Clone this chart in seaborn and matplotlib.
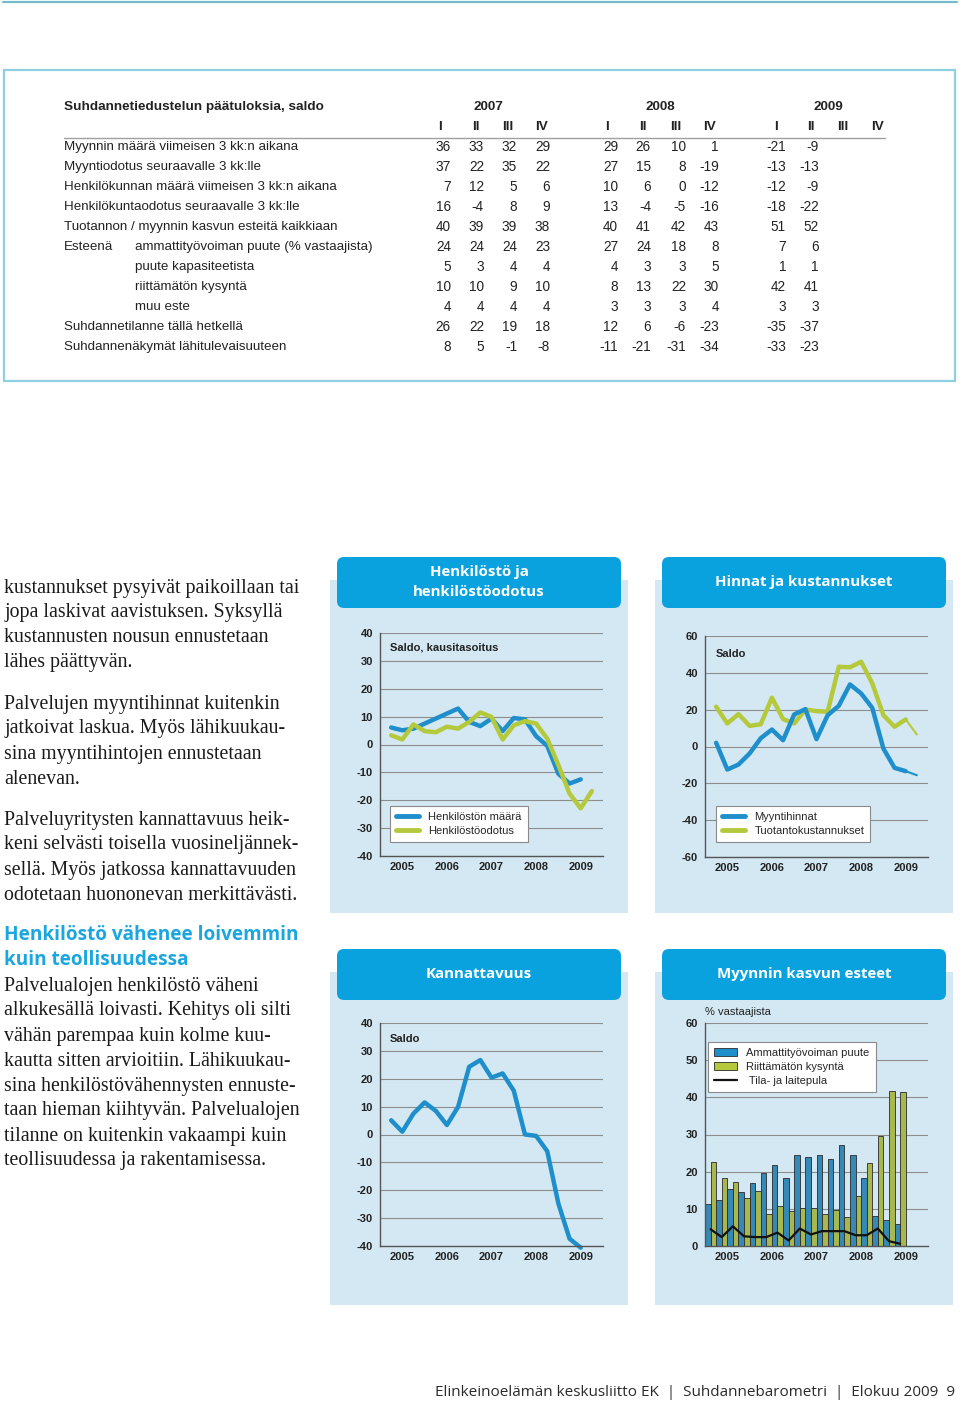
import numpy as np
import pandas as pd
import matplotlib
matplotlib.use('Agg')
import matplotlib.pyplot as plt
import seaborn as sns
from matplotlib.patches import Rectangle, FancyBboxPatch, Patch
from matplotlib.lines import Line2D

sns.set_style("white")
plt.rcParams['font.family'] = ['Liberation Sans', 'DejaVu Sans']

W, H = 960, 1405

# ---------------- table data ----------------
table_title = "Suhdannetiedustelun päätuloksia, saldo"
table_years = ["2007", "2008", "2009"]
quarter_names = ["I", "II", "III", "IV"]
row_labels = [
    "Myynnin määrä viimeisen 3 kk:n aikana",
    "Myyntiodotus seuraavalle 3 kk:lle",
    "Henkilökunnan määrä viimeisen 3 kk:n aikana",
    "Henkilökuntaodotus seuraavalle 3 kk:lle",
    "Tuotannon / myynnin kasvun esteitä kaikkiaan",
    "ammattityövoiman puute (% vastaajista)",
    "puute kapasiteetista",
    "riittämätön kysyntä",
    "muu este",
    "Suhdannetilanne tällä hetkellä",
    "Suhdannenäkymät lähitulevaisuuteen",
]
row_myynti = [36, 33, 32, 29, 29, 26, 10, 1, -21, -9]
row_myyntiodotus = [37, 22, 35, 22, 27, 15, 8, -19, -13, -13]
row_henkilokunta = [7, 12, 5, 6, 10, 6, 0, -12, -12, -9]
row_henkiloodotus = [16, -4, 8, 9, 13, -4, -5, -16, -18, -22]
row_esteita = [40, 39, 39, 38, 40, 41, 42, 43, 51, 52]
row_ammatti = [24, 24, 24, 23, 27, 24, 18, 8, 7, 6]
row_kapasiteetti = [5, 3, 4, 4, 4, 3, 3, 5, 1, 1]
row_kysynta = [10, 10, 9, 10, 8, 13, 22, 30, 42, 41]
row_muu = [4, 4, 4, 4, 3, 3, 3, 4, 3, 3]
row_tilanne = [26, 22, 19, 18, 12, 6, -6, -23, -35, -37]
row_nakymat = [8, 5, -1, -8, -11, -21, -31, -34, -33, -23]

# ---------------- chart data (quarters 2005 Q1 ...) ----------------
years = ["2005", "2006", "2007", "2008", "2009"]
quarter_idx = np.arange(1, 20)  # 2005 Q1 .. 2009 Q3

henk_maara = [6.1, 5.1, 5.7, 7.5, 9.3, 11.1, 12.9, 8.1, 6.6, 9.3, 4.8, 9.5,
              9.0, 3.0, -0.5, -10.5, -14.0, -12.5]
henk_odotus = [3.3, 1.8, 7.2, 4.8, 4.4, 6.4, 5.7, 8.1, 11.5, 9.9, 1.8, 6.9,
               8.4, 7.5, 2.1, -7.4, -17.6, -22.9, -16.7]

myyntihinnat = [2.0, -12.5, -9.8, -3.8, 4.5, 9.2, 3.4, 17.4, 20.3, 4.0, 17.0, 22.1,
                33.7, 28.8, 21.0, -1.1, -11.6, -13.4, -15.6]
tuotantokust = [21.6, 12.5, 17.6, 11.2, 12.1, 26.5, 14.9, 12.5, 20.1, 19.2, 18.9, 43.3,
                43.0, 46.0, 34.3, 17.0, 10.7, 14.7, 6.5]

kannattavuus = [5.1, 1.0, 7.5, 11.5, 8.5, 3.4, 9.9, 24.3, 26.7, 20.4, 21.9, 15.7,
                0.0, -0.5, -6.0, -24.8, -37.4, -40.6]

este_ammatti = [11.3, 12.3, 15.3, 14.5, 17.0, 19.7, 21.8, 18.4, 24.5, 23.9, 24.5, 23.4,
                27.2, 24.5, 18.2, 8.1, 7.1, 6.0]
este_kysynta = [22.5, 18.4, 17.1, 12.8, 14.8, 8.5, 10.8, 9.4, 10.3, 10.1, 8.7, 9.8,
                7.9, 13.5, 22.3, 29.7, 41.7, 41.5]
este_tila = [4.5, 2.4, 5.3, 2.6, 2.4, 2.4, 3.6, 1.5, 4.7, 3.1, 4.0, 4.0,
             4.0, 2.9, 2.9, 4.7, 1.3, 0.6]

# ---------------- colours ----------------
BLUE = "#1f8fcc"
GREEN = "#b5c93c"
PANEL = "#d3e8f3"
TAB = "#0aa2de"
HEAD = "#1ba6e0"
GRID = "#8d8d8d"
DARK = "#222222"

fig = plt.figure(figsize=(W / 100, H / 100), dpi=100)
fig.patch.set_facecolor("white")

# full-page axes in pixel units for boxes and text
bg = fig.add_axes([0, 0, 1, 1], zorder=0)
bg.set_xlim(0, W)
bg.set_ylim(H, 0)
bg.axis("off")

# top rule and table box
bg.plot([3, 957], [2, 2], color="#74bccc", lw=1.6)
bg.add_patch(Rectangle((4, 70), 951, 311, facecolor="white", edgecolor="#8fcfe2", lw=1.6))

# ---------------- table ----------------
bg.text(64, 107, table_title, fontsize=9.7, fontweight="bold", va="center", color=DARK)
for yr, x in zip(table_years, [488, 660, 828]):
    bg.text(x, 107, yr, fontsize=9.7, fontweight="bold", va="center", ha="center", color=DARK)
head_x = [440, 476, 508, 541, 607, 643, 676, 709, 776, 811, 843, 877]
for i, x in enumerate(head_x):
    bg.text(x, 127, quarter_names[i % 4], fontsize=9.7, fontweight="bold", va="center",
            ha="center", color=DARK)
bg.plot([64, 885], [138, 138], color="#a0a0a0", lw=1)

value_x = [451, 484, 517, 550, 618, 651, 686, 719, 786, 819]
table_rows = [row_myynti, row_myyntiodotus, row_henkilokunta, row_henkiloodotus, row_esteita,
              row_ammatti, row_kapasiteetti, row_kysynta, row_muu, row_tilanne, row_nakymat]
for r, (label, vals) in enumerate(zip(row_labels, table_rows)):
    y = 147 + 20 * r
    lx = 135 if 5 <= r <= 8 else 64
    bg.text(lx, y, label, fontsize=9.6, va="center", color=DARK)
    if r == 5:
        bg.text(64, y, "Esteenä", fontsize=9.6, va="center", color=DARK)
    for v, x in zip(vals, value_x):
        bg.text(x, y, str(v), fontsize=9.8, va="center", ha="right", color=DARK)

# ---------------- left column text ----------------
serif = ['Liberation Serif', 'DejaVu Serif']
left_lines = [
    (588, "kustannukset pysyivät paikoillaan tai"),
    (613, "jopa laskivat aavistuksen. Syksyllä"),
    (638, "kustannusten nousun ennustetaan"),
    (663, "lähes päättyvän."),
    (704, "Palvelujen myyntihinnat kuitenkin"),
    (729, "jatkoivat laskua. Myös lähikuukau-"),
    (754, "sina myyntihintojen ennustetaan"),
    (779, "alenevan."),
    (820, "Palveluyritysten kannattavuus heik-"),
    (845, "keni selvästi toisella vuosineljännek-"),
    (870, "sellä. Myös jatkossa kannattavuuden"),
    (895, "odotetaan huononevan merkittävästi."),
    (986, "Palvelualojen henkilöstö väheni"),
    (1011, "alkukesällä loivasti. Kehitys oli silti"),
    (1036, "vähän parempaa kuin kolme kuu-"),
    (1061, "kautta sitten arvioitiin. Lähikuukau-"),
    (1086, "sina henkilöstövähennysten ennuste-"),
    (1111, "taan hieman kiihtyvän. Palvelualojen"),
    (1136, "tilanne on kuitenkin vakaampi kuin"),
    (1161, "teollisuudessa ja rakentamisessa."),
]
for y, t in left_lines:
    bg.text(4, y, t, fontsize=14.3, family=serif, va="center", color="#1a1a1a")
for y, t in [(935, "Henkilöstö vähenee loivemmin"), (960, "kuin teollisuudessa")]:
    bg.text(4, y, t, fontsize=13.7, family=['Open Sans', 'DejaVu Sans'], fontweight="bold",
            va="center", color=HEAD)

# ---------------- chart panels ----------------
panels = [
    (330, 557, "Henkilöstö ja\nhenkilöstöodotus"),
    (655, 557, "Hinnat ja kustannukset"),
    (330, 949, "Kannattavuus"),
    (655, 949, "Myynnin kasvun esteet"),
]
for px, py, title in panels:
    bg.add_patch(Rectangle((px, py + 23), 298, 333, facecolor=PANEL, edgecolor="none"))
    bg.add_patch(FancyBboxPatch((px + 7, py), 284, 51,
                                boxstyle="round,pad=0,rounding_size=7",
                                facecolor=TAB, edgecolor="none"))
    bg.text(px + 149, py + 25, title, fontsize=10.8, fontweight="bold", color="white",
            ha="center", va="center", linespacing=1.55,
            family=['Open Sans', 'DejaVu Sans'])


def px_axes(left, top, right, bottom):
    return fig.add_axes([left / W, 1 - bottom / H, (right - left) / W, (bottom - top) / H],
                        zorder=2)


def style_axes(ax, ymin, ymax, ystep, x0):
    ax.set_facecolor("none")
    ax.set_xlim(x0, x0 + 20)
    ax.set_ylim(ymin, ymax)
    ticks = np.arange(ymin, ymax + 1, ystep)
    ax.set_yticks(ticks)
    ax.set_yticklabels([str(t) for t in ticks], fontsize=8, fontweight="bold", color=DARK)
    ax.yaxis.grid(True, color=GRID, lw=0.8)
    ax.xaxis.grid(False)
    ax.set_axisbelow(True)
    ax.set_xticks([x0 + 4 * i for i in range(6)])
    ax.set_xticklabels([])
    ax.set_xticks([x0 + 2 + 4 * i for i in range(5)], minor=True)
    ax.set_xticklabels(years, minor=True, fontsize=8, fontweight="bold", color=DARK)
    ax.tick_params(axis="x", which="major", direction="in", length=5, color="#555555", width=1)
    ax.tick_params(axis="x", which="minor", length=0, pad=4)
    ax.tick_params(axis="y", length=0, pad=5)
    for s in ["top", "right"]:
        ax.spines[s].set_visible(False)
    for s in ["left", "bottom"]:
        ax.spines[s].set_color("#555555")
        ax.spines[s].set_linewidth(1)
    ax.set_xlabel("")
    ax.set_ylabel("")


def add_legend(ax, handles, labels, x, y):
    leg = ax.legend(handles, labels, loc="upper left", bbox_to_anchor=(x / W, 1 - y / H),
                    bbox_transform=fig.transFigure, frameon=True, fancybox=False,
                    framealpha=1, edgecolor="#8a8a8a", fontsize=8, handlelength=2.1,
                    borderpad=0.55, labelspacing=0.35, handletextpad=0.8, borderaxespad=0)
    leg.get_frame().set_linewidth(0.8)


# chart 1: Henkilöstö ja henkilöstöodotus
ax1 = px_axes(380, 633, 603, 856)
sns.lineplot(x=quarter_idx[:18], y=henk_maara, ax=ax1, color=BLUE, lw=3.2)
sns.lineplot(x=quarter_idx, y=henk_odotus, ax=ax1, color=GREEN, lw=3.2)
style_axes(ax1, -40, 40, 10, 0)
ax1.text(390 / W, 1 - 648 / H, "Saldo, kausitasoitus", transform=fig.transFigure,
         fontsize=8, fontweight="bold", va="center", color=DARK)
add_legend(ax1, [Line2D([0], [0], color=BLUE, lw=3.5), Line2D([0], [0], color=GREEN, lw=3.5)],
           ["Henkilöstön määrä", "Henkilöstöodotus"], 390, 806)

# chart 2: Hinnat ja kustannukset
ax2 = px_axes(705, 636, 928, 857)
sns.lineplot(x=quarter_idx[:18], y=tuotantokust[:18], ax=ax2, color=GREEN, lw=3.2)
sns.lineplot(x=quarter_idx[17:], y=tuotantokust[17:], ax=ax2, color=GREEN, lw=1.5)
sns.lineplot(x=quarter_idx[:18], y=myyntihinnat[:18], ax=ax2, color=BLUE, lw=3.2)
sns.lineplot(x=quarter_idx[17:], y=myyntihinnat[17:], ax=ax2, color=BLUE, lw=1.5)
style_axes(ax2, -60, 60, 20, 0)
ax2.text(716 / W, 1 - 654 / H, "Saldo", transform=fig.transFigure,
         fontsize=8, fontweight="bold", va="center", color=DARK)
add_legend(ax2, [Line2D([0], [0], color=BLUE, lw=3.5), Line2D([0], [0], color=GREEN, lw=3.5)],
           ["Myyntihinnat", "Tuotantokustannukset"], 716, 806)

# chart 3: Kannattavuus
ax3 = px_axes(380, 1023, 603, 1246)
sns.lineplot(x=quarter_idx[:18], y=kannattavuus, ax=ax3, color=BLUE, lw=3.2, clip_on=False)
style_axes(ax3, -40, 40, 10, 0)
ax3.text(390 / W, 1 - 1039 / H, "Saldo", transform=fig.transFigure,
         fontsize=8, fontweight="bold", va="center", color=DARK)

# chart 4: Myynnin kasvun esteet
ax4 = px_axes(705, 1023, 928, 1246)
bars = pd.DataFrame({
    "q": np.concatenate([quarter_idx[:18], quarter_idx[:18]]),
    "val": este_ammatti + este_kysynta,
    "sarja": ["Ammattityövoiman puute"] * 18 + ["Riittämätön kysyntä"] * 18,
})
sns.barplot(data=bars, x="q", y="val", hue="sarja", native_scale=True, width=1.0,
            palette=[BLUE, GREEN], edgecolor="#2a2a2a", linewidth=0.6, errorbar=None,
            legend=False, ax=ax4)
sns.lineplot(x=quarter_idx[:18], y=este_tila, ax=ax4, color="#111111", lw=1.6)
style_axes(ax4, 0, 60, 10, 0.5)
ax4.text(705 / W, 1 - 1012 / H, "% vastaajista", transform=fig.transFigure,
         fontsize=8, va="center", color=DARK)
add_legend(ax4, [Patch(facecolor=BLUE, edgecolor="#2a2a2a", lw=0.6),
                 Patch(facecolor=GREEN, edgecolor="#2a2a2a", lw=0.6),
                 Line2D([0], [0], color="#111111", lw=1.6)],
           ["Ammattityövoiman puute", "Riittämätön kysyntä", " Tila- ja laitepula"], 708, 1042)

# ---------------- footer ----------------
bg.text(955, 1393, "Elinkeinoelämän keskusliitto EK  |  Suhdannebarometri  |  Elokuu 2009  9",
        fontsize=11, ha="right", va="center", color="#2a2a2a",
        family=['Open Sans', 'DejaVu Sans'])

fig.savefig("out.png", dpi=100)
